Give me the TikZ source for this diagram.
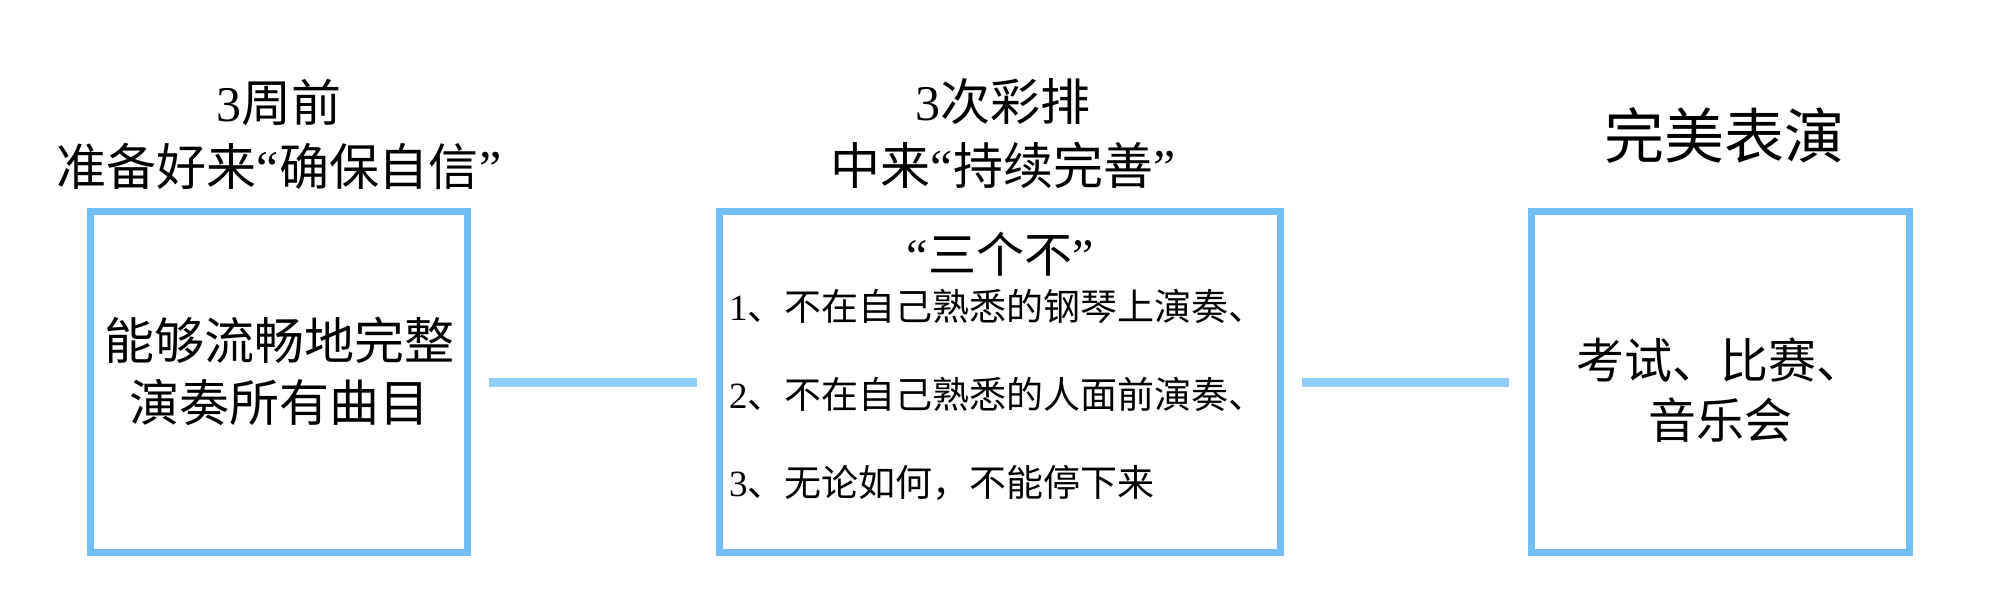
\documentclass[tikz,border=0pt]{standalone}
\usepackage{fontspec}
\setmainfont{Noto Sans CJK SC}
\newfontfamily\lat{Liberation Serif}
\definecolor{boxblue}{HTML}{74BEF8}
\definecolor{lineblue}{HTML}{8ECFFB}
\begin{document}
\begin{tikzpicture}[x=1pt,y=-1pt,
  box/.style={draw=boxblue, line width=7pt, fill=white, inner sep=0pt},
  link/.style={draw=lineblue, line width=9pt, shorten >=19pt, shorten <=18pt},
  head/.style={align=center, inner sep=0pt, font=\fontsize{50}{64}\selectfont},
  body/.style={align=center, inner sep=0pt},
  item/.style={anchor=west, inner sep=0pt, font=\fontsize{37}{44}\selectfont}]
\useasboundingbox (0,0) rectangle (2000,600);
\node[box, minimum width=377pt, minimum height=341pt] (b1) at (279,382) {};
\node[box, minimum width=561pt, minimum height=341pt] (b2) at (1000,382) {};
\node[box, minimum width=378pt, minimum height=341pt] (b3) at (1720.5,382) {};
\draw[link] (b1.east) -- (b2.west);
\draw[link] (b2.east) -- (b3.west);
\node[head] (h1) at (279,134) {{\lat 3}周前\\准备好来{\lat “}确保自信{\lat ”}};
\node[head] (h2) at (1003,134) {{\lat 3}次彩排\\中来{\lat “}持续完善{\lat ”}};
\node[head, font=\fontsize{60}{64}\selectfont] (h3) at (1724,135) {完美表演};
\node[body, font=\fontsize{50}{62}\selectfont] (t1) at (279,371) {能够流畅地完整\\演奏所有曲目};
\node[body, font=\fontsize{48}{60}\selectfont] (t3) at (1720.5,390) {考试、比赛、\\音乐会};
\node[head, font=\fontsize{48}{64}\selectfont] (t2) at (1000,254) {{\lat “}三个不{\lat ”}};
\node[item] (i1) at (729,306) {{\lat 1}、不在自己熟悉的钢琴上演奏、};
\node[item] (i2) at (729,394) {{\lat 2}、不在自己熟悉的人面前演奏、};
\node[item] (i3) at (729,483) {{\lat 3}、无论如何，不能停下来};
\end{tikzpicture}
\end{document}
